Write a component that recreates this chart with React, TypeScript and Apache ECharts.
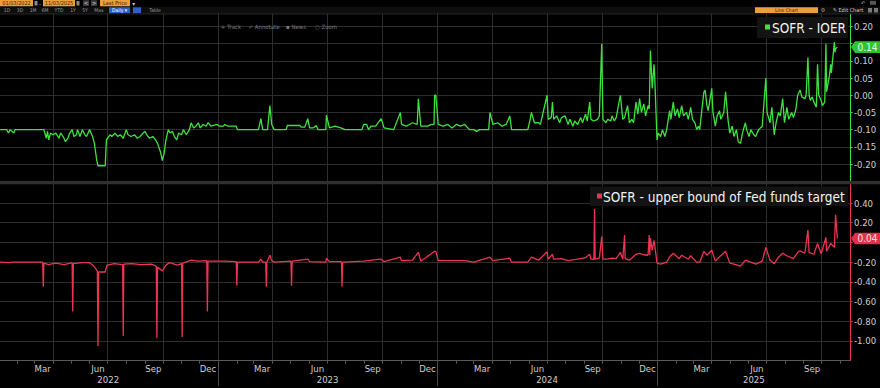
import React, { useEffect, useRef } from "react";
import * as echarts from "echarts";

// ---------- axis domain & tick labels ----------
const axisStart = "2022-01-03";
const axisEnd = "2025-11-17";
const monthNames = ["Jan", "Feb", "Mar", "Apr", "May", "Jun", "Jul", "Aug", "Sep", "Oct", "Nov", "Dec"];
const labelMonths = [3, 6, 9, 12];
const gridMonths = [1, 4, 7, 10];
const monthLabelDay = "15";
const yearLabelDates = ["2022-07-02", "2023-07-02", "2024-07-01", "2025-06-10"];

const topRange = { min: -0.25, max: 0.25, step: 0.05 };
const bottomRange = { min: -1.2, max: 0.6, step: 0.2 };

const seriesNames = ["SOFR - IOER", "SOFR - upper bound of Fed funds target"];

// ---------- SOFR - IOER (green) ----------
const sofrIoer2022: [string, number][] = [
  ["2022-01-03", -0.1], ["2022-01-14", -0.1], ["2022-01-17", -0.11], ["2022-01-20", -0.1], ["2022-01-26", -0.11], ["2022-01-28", -0.1],
  ["2022-03-17", -0.1], ["2022-03-21", -0.125], ["2022-03-23", -0.105], ["2022-03-25", -0.13], ["2022-03-28", -0.11],
  ["2022-04-01", -0.115], ["2022-04-06", -0.11], ["2022-04-11", -0.125], ["2022-04-14", -0.11], ["2022-04-18", -0.12], ["2022-04-22", -0.135], ["2022-04-26", -0.125], ["2022-04-29", -0.11],
  ["2022-05-03", -0.1], ["2022-05-06", -0.12], ["2022-05-10", -0.115], ["2022-05-12", -0.1], ["2022-05-16", -0.12], ["2022-05-20", -0.1], ["2022-05-24", -0.115], ["2022-05-27", -0.12],
  ["2022-06-01", -0.1], ["2022-06-06", -0.12], ["2022-06-09", -0.14], ["2022-06-13", -0.19], ["2022-06-15", -0.205], ["2022-06-27", -0.205], ["2022-06-29", -0.13],
  ["2022-07-05", -0.115], ["2022-07-08", -0.12], ["2022-07-13", -0.11], ["2022-07-18", -0.12], ["2022-07-22", -0.115], ["2022-07-27", -0.125],
  ["2022-08-01", -0.1], ["2022-08-04", -0.115], ["2022-08-09", -0.12], ["2022-08-15", -0.115], ["2022-08-19", -0.125], ["2022-08-24", -0.12], ["2022-08-29", -0.11],
  ["2022-09-01", -0.105], ["2022-09-06", -0.12], ["2022-09-09", -0.125], ["2022-09-14", -0.12], ["2022-09-19", -0.13], ["2022-09-22", -0.14], ["2022-09-27", -0.165], ["2022-09-30", -0.19],
  ["2022-10-03", -0.17], ["2022-10-06", -0.13], ["2022-10-10", -0.1], ["2022-10-13", -0.11], ["2022-10-17", -0.105], ["2022-10-20", -0.12], ["2022-10-24", -0.13], ["2022-10-27", -0.11],
  ["2022-11-01", -0.115], ["2022-11-04", -0.1], ["2022-11-09", -0.115], ["2022-11-14", -0.1], ["2022-11-17", -0.08], ["2022-11-21", -0.095], ["2022-11-25", -0.09], ["2022-11-29", -0.08],
  ["2022-12-02", -0.095], ["2022-12-07", -0.085], ["2022-12-12", -0.09], ["2022-12-15", -0.08], ["2022-12-20", -0.09], ["2022-12-30", -0.085],
];
const sofrIoer2023: [string, number][] = [
  ["2023-01-03", -0.09], ["2023-01-10", -0.09], ["2023-01-12", -0.085], ["2023-01-17", -0.09], ["2023-01-31", -0.09], ["2023-02-02", -0.1],
  ["2023-03-01", -0.1], ["2023-03-09", -0.1], ["2023-03-13", -0.068], ["2023-03-16", -0.1], ["2023-03-24", -0.1], ["2023-03-28", -0.03], ["2023-03-31", -0.085],
  ["2023-04-04", -0.1], ["2023-04-24", -0.1], ["2023-04-26", -0.088], ["2023-05-17", -0.088], ["2023-05-19", -0.093], ["2023-05-25", -0.093], ["2023-05-30", -0.068],
  ["2023-06-02", -0.095], ["2023-06-08", -0.095], ["2023-06-13", -0.088], ["2023-06-16", -0.1], ["2023-06-29", -0.1], ["2023-06-30", -0.058],
  ["2023-07-05", -0.095], ["2023-07-14", -0.09], ["2023-07-24", -0.095], ["2023-07-31", -0.1], ["2023-08-28", -0.1], ["2023-08-31", -0.085],
  ["2023-09-05", -0.085], ["2023-09-08", -0.1], ["2023-09-12", -0.09], ["2023-09-20", -0.09], ["2023-09-29", -0.068],
  ["2023-10-04", -0.095], ["2023-10-20", -0.1], ["2023-10-31", -0.05], ["2023-11-02", -0.085], ["2023-11-10", -0.09], ["2023-11-20", -0.08], ["2023-11-28", -0.085], ["2023-11-30", -0.01],
  ["2023-12-04", -0.09], ["2023-12-15", -0.09], ["2023-12-22", -0.085], ["2023-12-26", -0.085], ["2023-12-27", 0.0], ["2023-12-29", 0.0],
];
const sofrIoer2024: [string, number][] = [
  ["2024-01-02", -0.085], ["2024-01-10", -0.09], ["2024-01-18", -0.085], ["2024-01-25", -0.095], ["2024-02-01", -0.085], ["2024-02-08", -0.09], ["2024-02-15", -0.085], ["2024-02-23", -0.1],
  ["2024-03-01", -0.1], ["2024-03-06", -0.105], ["2024-03-11", -0.1], ["2024-03-26", -0.1], ["2024-03-28", -0.05],
  ["2024-04-02", -0.085], ["2024-04-10", -0.08], ["2024-04-17", -0.09], ["2024-04-24", -0.085], ["2024-04-30", -0.06], ["2024-05-03", -0.1], ["2024-05-30", -0.1],
  ["2024-06-03", -0.07], ["2024-06-05", -0.05], ["2024-06-10", -0.08], ["2024-06-17", -0.08], ["2024-06-20", -0.085], ["2024-07-01", 0.0],
  ["2024-07-03", -0.07], ["2024-07-08", -0.065], ["2024-07-10", -0.02], ["2024-07-12", -0.07], ["2024-07-17", -0.06], ["2024-07-22", -0.08], ["2024-07-25", -0.065], ["2024-07-31", -0.06],
  ["2024-08-05", -0.085], ["2024-08-08", -0.07], ["2024-08-13", -0.09], ["2024-08-16", -0.075], ["2024-08-21", -0.085], ["2024-08-26", -0.065], ["2024-08-29", -0.08],
  ["2024-09-03", -0.055], ["2024-09-06", -0.075], ["2024-09-10", -0.02], ["2024-09-12", -0.07], ["2024-09-17", -0.075], ["2024-09-23", -0.07], ["2024-09-26", -0.06], ["2024-09-30", 0.15],
  ["2024-10-02", -0.07], ["2024-10-07", -0.08], ["2024-10-10", -0.07], ["2024-10-15", -0.075], ["2024-10-17", -0.06], ["2024-10-21", -0.075], ["2024-10-24", -0.065], ["2024-10-31", 0.0],
  ["2024-11-04", -0.07], ["2024-11-07", -0.065], ["2024-11-12", -0.03], ["2024-11-15", -0.08], ["2024-11-19", -0.07], ["2024-11-22", -0.08], ["2024-11-26", -0.02], ["2024-11-29", -0.055],
  ["2024-12-02", -0.01], ["2024-12-05", -0.05], ["2024-12-09", -0.025], ["2024-12-12", -0.06], ["2024-12-16", -0.03], ["2024-12-18", -0.04], ["2024-12-20", 0.13], ["2024-12-23", 0.02],
  ["2024-12-26", 0.09], ["2024-12-27", 0.06], ["2024-12-31", -0.13],
];
const sofrIoer2025: [string, number][] = [
  ["2025-01-02", -0.11], ["2025-01-06", -0.12], ["2025-01-09", -0.1], ["2025-01-13", -0.12], ["2025-01-16", -0.1], ["2025-01-21", -0.045], ["2025-01-23", -0.07], ["2025-01-27", -0.02], ["2025-01-30", -0.06],
  ["2025-02-03", -0.04], ["2025-02-06", -0.065], ["2025-02-10", -0.03], ["2025-02-13", -0.06], ["2025-02-18", -0.05], ["2025-02-21", -0.07], ["2025-02-25", -0.035], ["2025-02-28", -0.07],
  ["2025-03-04", -0.08], ["2025-03-07", -0.1], ["2025-03-10", -0.09], ["2025-03-12", -0.1], ["2025-03-17", -0.02], ["2025-03-19", 0.01], ["2025-03-21", 0.015], ["2025-03-24", -0.03], ["2025-03-26", -0.045], ["2025-03-28", -0.025],
  ["2025-04-01", 0.02], ["2025-04-03", -0.05], ["2025-04-07", -0.09], ["2025-04-10", -0.06], ["2025-04-14", -0.045], ["2025-04-16", -0.07], ["2025-04-21", -0.05], ["2025-04-24", 0.01], ["2025-04-28", -0.07],
  ["2025-05-01", -0.11], ["2025-05-05", -0.09], ["2025-05-08", -0.12], ["2025-05-12", -0.1], ["2025-05-15", -0.135], ["2025-05-19", -0.14], ["2025-05-22", -0.11], ["2025-05-27", -0.08], ["2025-05-29", -0.1],
  ["2025-06-02", -0.12], ["2025-06-05", -0.1], ["2025-06-10", -0.115], ["2025-06-13", -0.12], ["2025-06-18", -0.1], ["2025-06-24", -0.09], ["2025-06-30", 0.05],
  ["2025-07-02", -0.05], ["2025-07-07", -0.08], ["2025-07-10", -0.035], ["2025-07-14", -0.115], ["2025-07-17", -0.08], ["2025-07-21", -0.05], ["2025-07-24", -0.06], ["2025-07-28", -0.01], ["2025-07-31", -0.08],
  ["2025-08-04", -0.035], ["2025-08-07", -0.07], ["2025-08-12", -0.05], ["2025-08-15", -0.065], ["2025-08-19", -0.04], ["2025-08-22", 0.0], ["2025-08-26", 0.015], ["2025-08-29", -0.005],
  ["2025-09-03", -0.01], ["2025-09-05", 0.0], ["2025-09-08", 0.11], ["2025-09-10", 0.0], ["2025-09-12", -0.015], ["2025-09-15", -0.005], ["2025-09-18", -0.02], ["2025-09-22", -0.035], ["2025-09-24", 0.09], ["2025-09-26", 0.0], ["2025-09-30", -0.015],
  ["2025-10-02", -0.03], ["2025-10-06", -0.02], ["2025-10-08", 0.15], ["2025-10-09", 0.01], ["2025-10-14", 0.06], ["2025-10-16", 0.09], ["2025-10-17", 0.065], ["2025-10-22", 0.155], ["2025-10-23", 0.125], ["2025-10-24", 0.135], ["2025-10-27", 0.14],
];

// ---------- SOFR - upper bound of Fed funds target (red) ----------
const sofrUpper2022: [string, number][] = [
  ["2022-01-03", -0.2], ["2022-01-18", -0.205], ["2022-01-24", -0.2], ["2022-03-15", -0.2], ["2022-03-16", -0.45], ["2022-03-17", -0.21], ["2022-03-25", -0.225],
  ["2022-04-05", -0.21], ["2022-04-20", -0.225], ["2022-05-03", -0.205], ["2022-05-04", -0.7], ["2022-05-05", -0.215], ["2022-05-20", -0.205],
  ["2022-06-01", -0.205], ["2022-06-08", -0.24], ["2022-06-14", -0.29], ["2022-06-15", -1.05], ["2022-06-16", -0.3], ["2022-06-27", -0.3], ["2022-06-30", -0.23],
  ["2022-07-12", -0.215], ["2022-07-26", -0.225], ["2022-07-27", -0.95], ["2022-07-28", -0.22], ["2022-08-10", -0.215], ["2022-08-25", -0.225],
  ["2022-09-12", -0.22], ["2022-09-20", -0.24], ["2022-09-21", -0.97], ["2022-09-22", -0.25], ["2022-09-30", -0.29], ["2022-10-06", -0.23], ["2022-10-12", -0.205], ["2022-10-25", -0.23],
  ["2022-11-01", -0.215], ["2022-11-02", -0.96], ["2022-11-03", -0.21], ["2022-11-17", -0.18], ["2022-11-28", -0.19], ["2022-12-13", -0.185], ["2022-12-14", -0.7], ["2022-12-15", -0.19],
];
const sofrUpper2023: [string, number][] = [
  ["2023-01-10", -0.19], ["2023-01-31", -0.195], ["2023-02-01", -0.44], ["2023-02-02", -0.2], ["2023-03-09", -0.2], ["2023-03-13", -0.17], ["2023-03-16", -0.2],
  ["2023-03-21", -0.2], ["2023-03-22", -0.45], ["2023-03-23", -0.2], ["2023-03-28", -0.13], ["2023-03-31", -0.185], ["2023-04-04", -0.2],
  ["2023-05-02", -0.19], ["2023-05-03", -0.44], ["2023-05-04", -0.19], ["2023-05-30", -0.17], ["2023-06-02", -0.195], ["2023-06-29", -0.2], ["2023-06-30", -0.16],
  ["2023-07-05", -0.195], ["2023-07-25", -0.195], ["2023-07-26", -0.45], ["2023-07-27", -0.2], ["2023-08-31", -0.19], ["2023-09-29", -0.17], ["2023-10-04", -0.195],
  ["2023-10-31", -0.15], ["2023-11-02", -0.185], ["2023-11-20", -0.18], ["2023-11-30", -0.1], ["2023-12-04", -0.19], ["2023-12-27", -0.09], ["2023-12-29", -0.09],
];
const sofrUpper2024: [string, number][] = [
  ["2024-01-02", -0.185], ["2024-02-15", -0.185], ["2024-03-01", -0.2], ["2024-03-28", -0.15], ["2024-04-02", -0.185], ["2024-04-30", -0.16], ["2024-05-03", -0.2], ["2024-05-30", -0.2],
  ["2024-06-05", -0.15], ["2024-06-17", -0.18], ["2024-07-01", -0.095], ["2024-07-03", -0.17], ["2024-07-10", -0.12], ["2024-07-12", -0.17], ["2024-07-25", -0.165],
  ["2024-08-05", -0.185], ["2024-08-16", -0.175], ["2024-08-26", -0.165], ["2024-09-03", -0.155], ["2024-09-10", -0.12], ["2024-09-12", -0.17], ["2024-09-17", -0.175],
  ["2024-09-18", 0.34], ["2024-09-19", -0.17], ["2024-09-26", -0.16], ["2024-09-30", 0.06], ["2024-10-02", -0.17], ["2024-10-10", -0.17], ["2024-10-17", -0.16], ["2024-10-24", -0.165],
  ["2024-10-31", -0.1], ["2024-11-04", -0.17], ["2024-11-07", 0.075], ["2024-11-08", -0.165], ["2024-11-15", -0.18], ["2024-11-26", -0.12], ["2024-12-02", -0.11], ["2024-12-09", -0.125],
  ["2024-12-16", -0.13], ["2024-12-18", 0.075], ["2024-12-19", -0.13], ["2024-12-20", 0.045], ["2024-12-23", -0.08], ["2024-12-26", 0.02], ["2024-12-27", -0.02], ["2024-12-31", -0.21],
];
const sofrUpper2025: [string, number][] = [
  ["2025-01-06", -0.22], ["2025-01-16", -0.2], ["2025-01-21", -0.145], ["2025-01-27", -0.11], ["2025-02-06", -0.165], ["2025-02-10", -0.13], ["2025-02-21", -0.17], ["2025-02-25", -0.135],
  ["2025-03-07", -0.2], ["2025-03-12", -0.2], ["2025-03-19", -0.09], ["2025-03-24", -0.13], ["2025-04-01", -0.08], ["2025-04-07", -0.19], ["2025-04-14", -0.145], ["2025-04-24", -0.09],
  ["2025-05-01", -0.21], ["2025-05-08", -0.22], ["2025-05-19", -0.24], ["2025-05-27", -0.18], ["2025-06-05", -0.2], ["2025-06-13", -0.22], ["2025-06-24", -0.19], ["2025-06-30", -0.05],
  ["2025-07-07", -0.18], ["2025-07-14", -0.215], ["2025-07-21", -0.15], ["2025-07-28", -0.11], ["2025-08-04", -0.135], ["2025-08-15", -0.165], ["2025-08-22", -0.1], ["2025-08-26", -0.085],
  ["2025-09-03", -0.11], ["2025-09-08", 0.125], ["2025-09-10", -0.1], ["2025-09-18", -0.12], ["2025-09-24", -0.01], ["2025-09-30", -0.115],
  ["2025-10-08", 0.05], ["2025-10-09", -0.09], ["2025-10-16", -0.01], ["2025-10-22", -0.05], ["2025-10-24", 0.28], ["2025-10-27", 0.04],
];

// ---------- styling ----------
const GREEN = "#3ee23e";
const RED = "#ec3452";
const GRID_LINE = "#2d2d2d";
const LABEL = "#cfcfcf";
const FONT = "'DejaVu Sans Condensed', 'DejaVu Sans', sans-serif";
const ORANGE = "#e9a03b";

function buildDays(a: string, b: string): string[] {
  const out: string[] = [];
  const d = new Date(a + "T00:00:00Z");
  const end = new Date(b + "T00:00:00Z").getTime();
  while (d.getTime() <= end) {
    out.push(d.toISOString().slice(0, 10));
    d.setUTCDate(d.getUTCDate() + 1);
  }
  return out;
}

const fmt2 = (v: number) => (Math.abs(v) < 1e-9 ? "0.00" : v.toFixed(2));
const isGridDay = (_i: number, v: string) => v.slice(8) === "01" && gridMonths.includes(+v.slice(5, 7));
const isMonthStart = (_i: number, v: string) => v.slice(8) === "01";
const isLabelDay = (_i: number, v: string) => v.slice(8) === monthLabelDay && labelMonths.includes(+v.slice(5, 7));
const isYearStart = (_i: number, v: string) => v.slice(5) === "01-01";
const isYearLabel = (_i: number, v: string) => yearLabelDates.includes(v);

function txt(x: number, y: number, text: string, fill: string, fontSize: number, align = "center") {
  return { type: "text", z: 50, x, y, style: { text, fill, fontSize, fontFamily: FONT, align, verticalAlign: "middle" } };
}
function box(x: number, y: number, w: number, h: number, fill: string) {
  return { type: "rect", z: 50, shape: { x, y, width: w, height: h }, style: { fill } };
}

function staticGraphics(): any[] {
  const els: any[] = [];
  els.push(box(0, 6.8, 880, 6.8, "#0e0e0e"));
  els.push({ type: "line", z: 50, shape: { x1: 0, y1: 13.9, x2: 880, y2: 13.9 }, style: { stroke: "#2a2a2a", lineWidth: 1 } });
  els.push(box(0, 0, 33, 6.3, ORANGE), txt(16.5, 3.3, "01/03/2022", "#3a2400", 5.5));
  els.push(box(34.5, 1, 3, 4.5, "#8a8a8a"));
  els.push(txt(40, 3.3, "-", "#cccccc", 6));
  els.push(box(43, 0, 32, 6.3, ORANGE), txt(59, 3.3, "11/03/2025", "#3a2400", 5.5));
  els.push(box(76.5, 1, 3, 4.5, "#8a8a8a"));
  els.push(box(83, 0.3, 6, 5.8, "#3c3c3c"), txt(86, 3.3, "<", "#dddddd", 5.5));
  els.push(box(91, 0.3, 6, 5.8, "#3c3c3c"), txt(94, 3.3, ">", "#dddddd", 5.5));
  els.push(box(100, 0, 30, 6.3, ORANGE), txt(115, 3.3, "Last Price", "#3a2400", 5.5));
  els.push(txt(133.5, 3.3, "▾", "#cccccc", 6));
  const periods: [number, string][] = [[7, "1D"], [20, "3D"], [33, "1M"], [45, "6M"], [59, "YTD"], [73, "1Y"], [85, "5Y"], [99, "Max"]];
  periods.forEach(([x, t]) => els.push(txt(x, 10.3, t, "#9a9a9a", 5)));
  els.push(box(109, 7.3, 21, 5.8, "#2b62c8"), txt(119.5, 10.3, "Daily ▾", "#ffffff", 5));
  els.push(box(133, 7.3, 8, 5.8, "#2b62c8"));
  els.push(txt(155, 10.3, "Table", "#9a9a9a", 5));
  els.push(box(755, 7.3, 63, 5.8, ORANGE), txt(786.5, 10.3, "Line Chart", "#3a2400", 5));
  els.push(txt(823, 10.3, "⚙", "#aaaaaa", 5.5));
  els.push(txt(848, 10.3, "✎ Edit Chart", "#cccccc", 5.5));
  els.push(box(868, 8, 4, 4.5, "#777777"), box(874, 8, 4, 4.5, "#777777"));
  els.push(txt(863, 2.8, "↶", "#aaaaaa", 5.5), box(870, 0.8, 6, 4, "#555555"));
  els.push(txt(231, 26, "+ Track", "#7d7d7d", 6), txt(264, 26, "✓ Annotate", "#7d7d7d", 6));
  els.push(txt(296, 26, "▪ News", "#7d7d7d", 6), txt(326, 26, "○ Zoom", "#7d7d7d", 6));
  els.push(box(0, 181, 880, 3.2, "#303030"));
  els.push(box(757, 17, 91, 21, "#131313"));
  els.push(box(765, 24.5, 5, 5, GREEN));
  els.push(txt(772, 27.6, seriesNames[0], "#f2f2f2", 13.5, "left"));
  els.push(box(590, 186.5, 258, 19.5, "#131313"));
  els.push(box(597, 193.5, 5, 5, RED));
  els.push(txt(603, 196.6, seriesNames[1], "#f2f2f2", 13.5, "left"));
  return els;
}

function tag(x: number, y: number, value: number, bg: string, fg: string): any[] {
  return [
    {
      type: "polygon",
      z: 60,
      shape: { points: [[x + 1, y], [x + 5, y - 5.8], [x + 30, y - 5.8], [x + 30, y + 5.8], [x + 5, y + 5.8]] },
      style: { fill: bg },
    },
    { type: "text", z: 61, x: x + 17.5, y: y + 0.3, style: { text: fmt2(value), fill: fg, fontSize: 10, fontFamily: FONT, align: "center", verticalAlign: "middle" } },
  ];
}

export default function App() {
  const ref = useRef<HTMLDivElement>(null);

  useEffect(() => {
    const el = ref.current;
    if (!el) return;
    const chart = echarts.init(el, null, { renderer: "svg" });
    const days = buildDays(axisStart, axisEnd);
    const green = [...sofrIoer2022, ...sofrIoer2023, ...sofrIoer2024, ...sofrIoer2025];
    const red = [...sofrUpper2022, ...sofrUpper2023, ...sofrUpper2024, ...sofrUpper2025];
    const lastG = green[green.length - 1][1];
    const lastR = red[red.length - 1][1];

    const splitLine = { show: true, interval: isGridDay, lineStyle: { color: GRID_LINE, width: 1 } };
    const ySplit = { show: true, lineStyle: { color: GRID_LINE, width: 1 } };
    // the last-value tag sits over the axis label it covers (as in the reference)
    const yLabel = (last: number, band: number) => ({
      show: true,
      color: LABEL,
      fontSize: 9.5,
      fontFamily: FONT,
      margin: 4,
      showMinLabel: false,
      showMaxLabel: false,
      formatter: (v: number) => (Math.abs(v - last) < band ? "" : fmt2(v)),
    });

    chart.setOption({
      animation: false,
      backgroundColor: "#000000",
      grid: [
        { left: 0, right: 30, top: 9.3, height: 171.9 },
        { left: 0, right: 30, top: 183.3, height: 177.4 },
      ],
      xAxis: [
        {
          type: "category", gridIndex: 0, data: days, boundaryGap: false,
          axisLine: { show: false, onZero: false }, axisTick: { show: false }, axisLabel: { show: false }, splitLine,
        },
        {
          type: "category", gridIndex: 1, data: days, boundaryGap: false, position: "bottom",
          axisLine: { show: true, onZero: false, lineStyle: { color: "#5a5a5a", width: 1 } },
          axisTick: { show: true, interval: isMonthStart, length: 3, lineStyle: { color: "#5a5a5a" } },
          axisLabel: {
            show: true, interval: isLabelDay, color: LABEL, fontSize: 9.5, fontFamily: FONT, margin: 3,
            formatter: (v: string) => monthNames[+v.slice(5, 7) - 1],
          },
          splitLine,
        },
        {
          type: "category", gridIndex: 1, data: days, boundaryGap: false, position: "bottom",
          axisLine: { show: false, onZero: false },
          axisTick: { show: true, interval: isYearStart, length: 25, lineStyle: { color: "#4a4a4a" } },
          axisLabel: {
            show: true, interval: isYearLabel, color: LABEL, fontSize: 9.5, fontFamily: FONT, margin: 14,
            formatter: (v: string) => v.slice(0, 4),
          },
          splitLine: { show: false },
        },
      ],
      yAxis: [
        {
          type: "value", gridIndex: 0, position: "right", min: topRange.min, max: topRange.max, interval: topRange.step,
          axisLine: { show: true, lineStyle: { color: GREEN, width: 1 } },
          axisTick: { show: true, length: 2.5, lineStyle: { color: GREEN } },
          axisLabel: yLabel(lastG, 0.025), splitLine: ySplit,
        },
        {
          type: "value", gridIndex: 1, position: "right", min: bottomRange.min, max: bottomRange.max, interval: bottomRange.step,
          axisLine: { show: true, lineStyle: { color: RED, width: 1 } },
          axisTick: { show: true, length: 2.5, lineStyle: { color: RED } },
          axisLabel: yLabel(lastR, 0.09), splitLine: ySplit,
        },
      ],
      series: [
        {
          name: seriesNames[0], type: "line", xAxisIndex: 0, yAxisIndex: 0, data: green,
          showSymbol: false, symbol: "none", lineStyle: { color: GREEN, width: 1.3 }, z: 5,
        },
        {
          name: seriesNames[1], type: "line", xAxisIndex: 1, yAxisIndex: 1, data: red,
          showSymbol: false, symbol: "none", lineStyle: { color: RED, width: 1.3 }, z: 5,
        },
      ],
    });

    const pG = chart.convertToPixel({ gridIndex: 0 }, [axisEnd, lastG]) as number[];
    const pR = chart.convertToPixel({ gridIndex: 1 }, [axisEnd, lastR]) as number[];

    chart.setOption({
      graphic: {
        elements: [
          ...staticGraphics(),
          ...tag(pG[0], pG[1], lastG, "#2fc42f", "#e6ffe6"),
          ...tag(pR[0], pR[1], lastR, "#e2304c", "#ffe3e7"),
        ],
      },
    });

    return () => chart.dispose();
  }, []);

  return (
    <div
      ref={ref}
      style={{ position: "fixed", left: 0, top: 0, width: 880, height: 388, background: "#000" }}
    />
  );
}
